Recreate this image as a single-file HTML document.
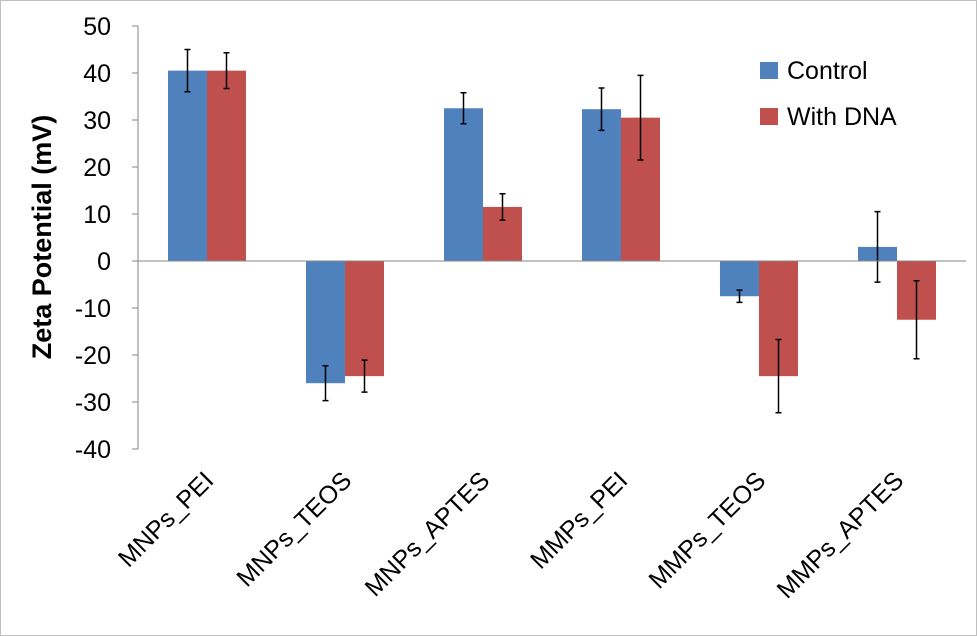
<!DOCTYPE html>
<html><head><meta charset="utf-8"><style>
html,body{margin:0;padding:0;background:#fff;}
svg{display:block;font-family:"Liberation Sans",sans-serif;}
</style></head><body>
<svg id="chart" width="977" height="636">
<rect x="0.5" y="0.5" width="976" height="635" fill="#fff" stroke="#bfbfbf"/>
<g id="plot"></g>
</svg>
<script>
const categories=["MNPs_PEI","MNPs_TEOS","MNPs_APTES","MMPs_PEI","MMPs_TEOS","MMPs_APTES"];
const controlValues=[40.5,-26,32.5,32.3,-7.5,3];
const controlErrors=[4.5,3.7,3.3,4.5,1.3,7.5];
const dnaValues=[40.5,-24.5,11.5,30.5,-24.5,-12.5];
const dnaErrors=[3.8,3.4,2.8,9,7.8,8.3];
const yTicks=[50,40,30,20,10,0,-10,-20,-30,-40];
const seriesNames=["Control","With DNA"];
const colors=["#4f81bd","#c0504d"];

const NS="http://www.w3.org/2000/svg";
const g=document.getElementById('plot');
const x0=138,x1=966,yMax=50,yMin=-40,yTop=26,yBot=449;
function yScale(v){return yTop+(yMax-v)*(yBot-yTop)/(yMax-yMin);}
const band=(x1-x0)/categories.length;
function xCenter(i){return x0+band*(i+0.5);}
function mk(tag,attrs){const e=document.createElementNS(NS,tag);for(const k in attrs)e.setAttribute(k,attrs[k]);g.appendChild(e);return e;}

let ax=mk('line',{x1:x0,y1:yTop,x2:x0,y2:yBot,stroke:'#868686','stroke-width':1});


yTicks.forEach(t=>{
  const y=yScale(t);
  const tk=mk('line',{x1:x0-6,y1:y,x2:x0,y2:y,stroke:'#868686'});
  
  
  const tx=mk('text',{x:x0-27,y:y+9,'text-anchor':'end','font-size':25,fill:'#000'});
  tx.textContent=t;
  
  
});
const yt=mk('text',{x:0,y:0,transform:'translate(51,237) rotate(-90)','text-anchor':'middle','font-size':27,'font-weight':'bold'});
yt.textContent='Zeta Potential (mV)';



const bw=39;
const series=[[controlValues,controlErrors],[dnaValues,dnaErrors]];
categories.forEach((c,i)=>{
  const cx=xCenter(i);
  series.forEach((s,si)=>{
    const v=s[0][i],e=s[1][i];
    const bx=cx-bw+si*bw;
    const y0=yScale(0),yv=yScale(v);
    const r=mk('rect',{x:bx,y:Math.min(y0,yv),width:bw,height:Math.abs(yv-y0),fill:colors[si]});
    
    
    const ex=bx+bw/2;
    const eb=mk('path',{d:`M${ex},${yScale(v+e)}V${yScale(v-e)}M${ex-3},${yScale(v+e)}h6M${ex-3},${yScale(v-e)}h6`,stroke:'#000','stroke-width':1.5,fill:'none'});
    
    
  });
  const lx=cx+8,ly=482;
  const tl=mk('text',{x:lx,y:ly,transform:`rotate(-45 ${lx} ${ly})`,'text-anchor':'end','font-size':25});
  tl.textContent=c;
  
  
});
const zl=mk('line',{x1:x0,y1:yScale(0),x2:x1,y2:yScale(0),stroke:'#868686'});



seriesNames.forEach((n,i)=>{
  const y=62+i*46;
  const sw=mk('rect',{x:760,y:y,width:18,height:17,fill:colors[i]});
  
  
  const t=mk('text',{x:787,y:y+17,'font-size':25});
  t.textContent=n;
  
  
});
</script>
</body></html>
